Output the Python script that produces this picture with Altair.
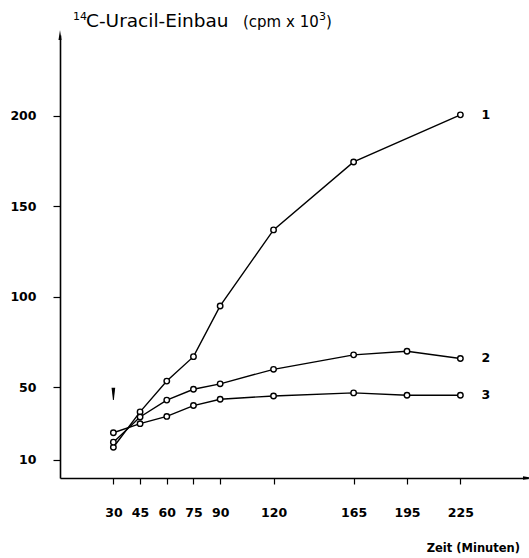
import altair as alt
import pandas as pd

# Sampling times (minutes) and incorporation (cpm x 10^3) for the three cultures
minutes = [30, 45, 60, 75, 90, 120, 165, 195, 225]
curve_1 = [17, 36.5, 53.5, 67, 95, 137, 174.5, None, 200.5]
curve_2 = [19.8, 33.7, 43, 49, 52, 60, 68, 70, 66]
curve_3 = [25, 30, 34, 40, 43.5, 45.3, 47, 45.7, 45.7]
curve_names = ["1", "2", "3"]

y_ticks = [10, 50, 100, 150, 200]
x_ticks = minutes

# Axis extents (arrow tips)
x_max = 263
y_max = 244.6

# Down arrow marking the time of addition
marker_time = [30]
marker_level = [46.5]

FONT = "DejaVu Sans"

rows = []
for name, values in zip(curve_names, [curve_1, curve_2, curve_3]):
    for t, v in zip(minutes, values):
        if v is not None:
            rows.append({"curve": name, "t": t, "v": v})
df = pd.DataFrame(rows)
last = df.groupby("curve", as_index=False).last()

x_scale = alt.Scale(domain=[0, x_max], nice=False, zero=True)
y_scale = alt.Scale(domain=[0, y_max], nice=False, zero=True)

x_axis = alt.Axis(
    values=x_ticks, title=None, grid=False, domainColor="black", domainWidth=1.6,
    tickColor="black", tickSize=6, tickWidth=1.2, labelFont=FONT, labelFontSize=12.5,
    labelFontWeight="bold", labelColor="black", labelPadding=22, labelFlush=False,
    labelOverlap=False,
)
y_axis = alt.Axis(
    values=y_ticks, title=None, grid=False, domainColor="black", domainWidth=1.6,
    tickColor="black", tickSize=7, tickWidth=1.2, labelFont=FONT, labelFontSize=12.5,
    labelFontWeight="bold", labelColor="black", labelPadding=17,
)

x_enc = alt.X("t:Q", scale=x_scale, axis=x_axis)
y_enc = alt.Y("v:Q", scale=y_scale, axis=y_axis)

base = alt.Chart(df)

lines = base.mark_line(color="black", strokeWidth=1.4).encode(
    x=x_enc, y=y_enc, detail="curve:N"
)
points = base.mark_point(
    filled=True, fill="white", stroke="black", strokeWidth=1.4, size=30, opacity=1
).encode(x="t:Q", y="v:Q")

labels = alt.Chart(last).mark_text(
    align="left", baseline="middle", dx=21, font=FONT, fontSize=12.5,
    fontWeight="bold", color="black"
).encode(x="t:Q", y="v:Q", text="curve:N")

marker = alt.Chart(pd.DataFrame({"t": marker_time, "v": marker_level})).mark_point(
    shape="M-0.3,-1L0.3,-1L0.07,1L-0.07,1Z", filled=True, color="black",
    size=150, opacity=1
).encode(x="t:Q", y="v:Q")

# Arrow tips at the ends of both axes
x_tip = alt.Chart(pd.DataFrame({"t": [x_max], "v": [0]})).mark_point(
    shape="M1,0L-1,-0.35L-1,0.35Z", filled=True, color="black", size=100, opacity=1
).encode(x="t:Q", y="v:Q")
y_tip = alt.Chart(pd.DataFrame({"t": [0], "v": [y_max]})).mark_point(
    shape="M0,-1L-0.3,1L0.3,1Z", filled=True, color="black", size=100, opacity=1
).encode(x="t:Q", y="v:Q")


def note(text, x, y, size, align="left", weight="normal"):
    return alt.Chart(pd.DataFrame({"s": [text]})).mark_text(
        align=align, baseline="alphabetic", font=FONT, fontSize=size,
        fontWeight=weight, color="black"
    ).encode(x=alt.value(x), y=alt.value(y), text="s:N")


# Y axis title with superscripts, and the x axis title at the lower right
title_parts = [
    note("14", 13, -15, 11),
    note("C-Uracil-Einbau", 26, -8, 18.5),
    note("(cpm x 10", 183, -8, 15),
    note("3", 259, -15, 11),
    note(")", 266, -8, 15),
]
x_title = note("Zeit (Minuten)", 460, 517, 11.5, align="right", weight="bold")

chart = alt.layer(
    lines, points, labels, marker, x_tip, y_tip, *title_parts, x_title
).properties(
    width=468, height=443,
    autosize=alt.AutoSizeParams(type="none"),
    padding={"left": 60, "top": 35, "right": 1, "bottom": 80},
    background="white",
).configure_view(stroke=None)

chart.save("out.html", embed_options={"renderer": "svg", "actions": False})
